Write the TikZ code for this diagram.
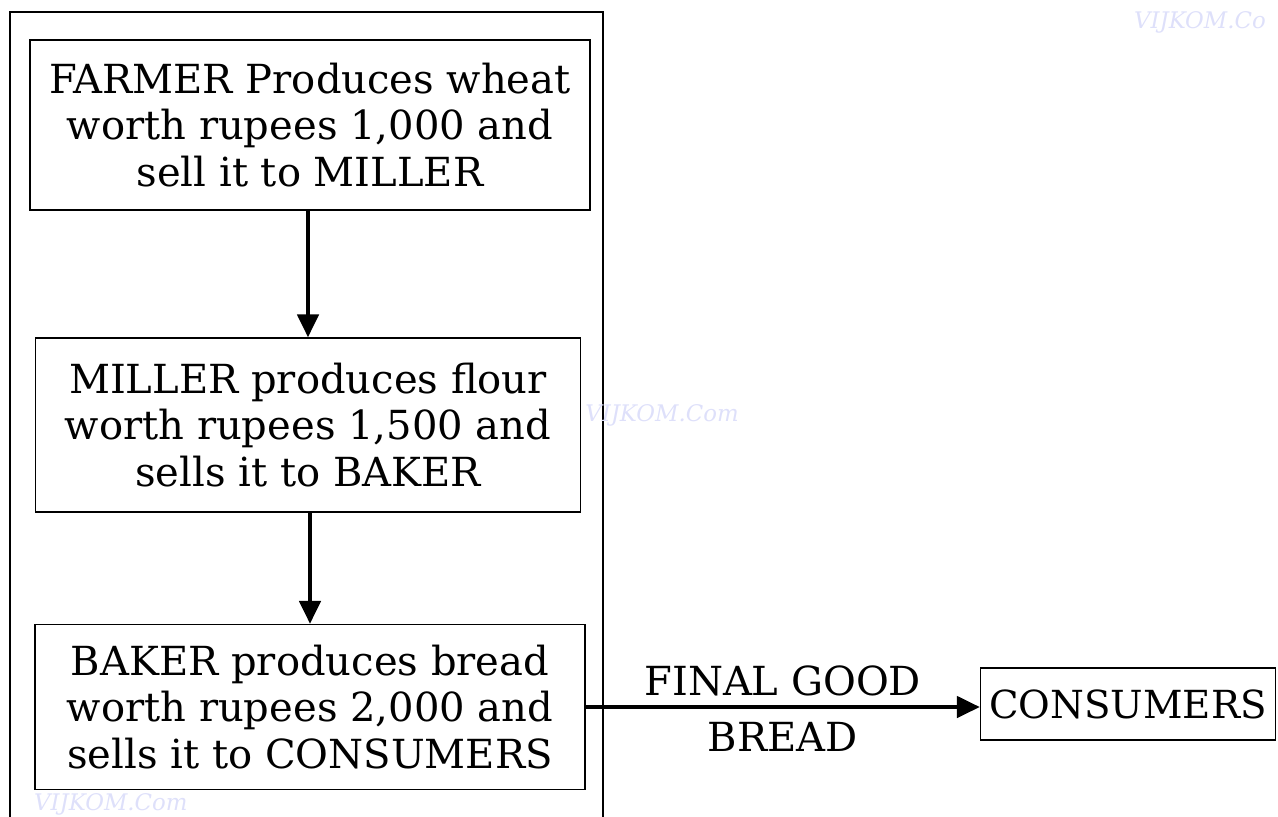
\documentclass[tikz,border=0pt]{standalone}
\usepackage{fontspec}
\setmainfont{DejaVu Serif}
\usepackage{tikz}
\usetikzlibrary{positioning,calc,arrows.meta}
\definecolor{markblue}{RGB}{222,224,250}

\tikzset{
  stagebox/.style={draw, line width=0.8pt, align=center, inner sep=0pt,
    font=\fontsize{22.8}{26.6}\selectfont},
  flowarrow/.style={line width=2.3pt, -{Triangle[length=13pt,width=12pt]}},
  watermark/.style={text=markblue, font=\fontsize{13}{15}\selectfont\itshape}
}

\begin{document}
\begin{tikzpicture}[x=0.02cm, y=-0.02cm]
  \useasboundingbox (0,0) rectangle (1278,816);
  % outer frame
  \draw[line width=0.8pt] (10,12) rectangle (603,840);

  % stages
  \node[stagebox, minimum width=11.2cm, minimum height=3.4cm] (farmer) at (310,125)
    {FARMER Produces wheat\\ worth rupees 1,000 and\\ sell it to MILLER};
  \node[stagebox, minimum width=10.9cm, minimum height=3.48cm] (miller) at (308,425)
    {MILLER produces flour\\ worth rupees 1,500 and\\ sells it to BAKER};
  \node[stagebox, minimum width=11cm, minimum height=3.3cm] (baker) at (310,707)
    {BAKER produces bread\\ worth rupees 2,000 and\\ sells it to CONSUMERS};
  \node[stagebox, minimum width=5.9cm, minimum height=1.44cm,
    font=\fontsize{22}{26.6}\selectfont] (consumers) at (1128,704) {CONSUMERS};

  % flows
  \draw[flowarrow] (farmer.south -| 308,0) -- (miller.north -| 308,0);
  \draw[flowarrow] (miller.south -| 310,0) -- (baker.north -| 310,0);
  \draw[flowarrow] (baker.east) -- (baker.east -| consumers.west)
    node[midway, above=2pt, font=\fontsize{22.8}{26.6}\selectfont] (lblgood) {FINAL GOOD}
    node[midway, below=4pt, font=\fontsize{22.8}{26.6}\selectfont] (lblbread) {BREAD};

  % watermarks
  \node[watermark, anchor=east] (markA) at (1272,22) {VIJKOM.Co};
  \node[watermark] (markB) at (662,415) {VIJKOM.Com};
  \node[watermark, anchor=west] (markC) at (28,804) {VIJKOM.Com};
\end{tikzpicture}
\end{document}
